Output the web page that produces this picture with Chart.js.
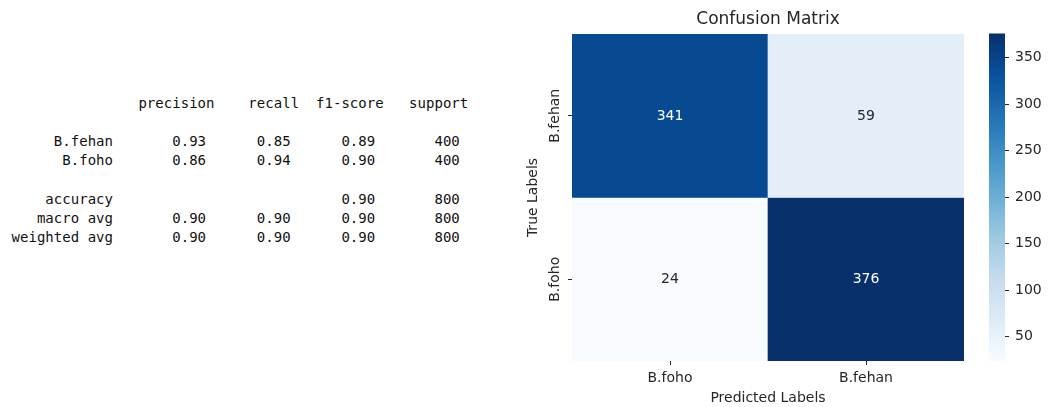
<!DOCTYPE html>
<html>
<head>
<meta charset="utf-8">
<script src="https://cdn.jsdelivr.net/npm/chart.js@4.4.0/dist/chart.umd.min.js"></script>
<style>
  html, body { margin: 0; padding: 0; background: #fff; width: 1053px; height: 407px; overflow: hidden; position: relative; }
  #report { position: absolute; left: 11.5px; top: 93.7px; margin: 0; font: 14px 'DejaVu Sans Mono', monospace; letter-spacing: 0.03px; line-height: 19.2px; color: #111; white-space: pre; }
  #cm { position: absolute; left: 500px; top: 0; }
  #cb { position: absolute; left: 980px; top: 0; }
</style>
</head>
<body>
<pre id="report"></pre>
<canvas id="cm" width="480" height="407"></canvas>
<canvas id="cb" width="73" height="407"></canvas>
<script>
// ---- classification report values ----
const reportHeaders = ['precision', 'recall', 'f1-score', 'support'];
const reportClasses = ['B.fehan', 'B.foho'];
const precisionScores = [0.93, 0.86];
const recallScores = [0.85, 0.94];
const f1Scores = [0.89, 0.90];
const supportCounts = [400, 400];
const accuracyScore = 0.90;
const totalSupport = 800;
const macroAvg = [0.90, 0.90, 0.90];
const weightedAvg = [0.90, 0.90, 0.90];

// ---- confusion matrix values ----
const predictedLabels = ['B.foho', 'B.fehan'];   // columns, left to right
const trueLabels = ['B.fehan', 'B.foho'];        // rows, top to bottom
const confusionCounts = [
  [341, 59],
  [24, 376]
];
const colorbarTicks = [50, 100, 150, 200, 250, 300, 350];

// ---- text report ----
const NAME_W = 12;
const cell = v => ' ' + (v == null ? '' : v.toFixed(2)).padStart(9);
const row = (name, vals, sup) =>
  name.padStart(NAME_W) + ' ' + vals.map(cell).join('') + ' ' + String(sup).padStart(9);
const reportLines = [
  ' '.repeat(15) + reportHeaders.map(h => h.padStart(9)).join(' '),
  '',
  ...reportClasses.map((c, i) => row(c, [precisionScores[i], recallScores[i], f1Scores[i]], supportCounts[i])),
  '',
  row('accuracy', [null, null, accuracyScore], totalSupport),
  row('macro avg', macroAvg, totalSupport),
  row('weighted avg', weightedAvg, totalSupport)
];
document.getElementById('report').textContent = reportLines.join('\n');

// ---- Blues colormap ----
const BLUES = [[247,251,255],[222,235,247],[198,219,239],[158,202,225],[107,174,214],[66,146,198],[33,113,181],[8,81,156],[8,48,107]];
function bluesRGB(t) {
  t = Math.min(1, Math.max(0, t));
  const s = t * (BLUES.length - 1);
  const i = Math.min(BLUES.length - 2, Math.floor(s));
  const f = s - i;
  return BLUES[i].map((c, k) => Math.round(c + (BLUES[i + 1][k] - c) * f));
}
const rgb = a => `rgb(${a[0]},${a[1]},${a[2]})`;

const allCounts = confusionCounts.flat();
const vmin = Math.min(...allCounts);
const vmax = Math.max(...allCounts);
const norm = v => (v - vmin) / (vmax - vmin);

const TEXT = '#262626';
const FONT = 'DejaVu Sans';
Chart.defaults.font.family = FONT;
Chart.defaults.color = TEXT;

const nRows = trueLabels.length;
const datasets = trueLabels.map((lab, i) => ({
  label: lab,
  data: predictedLabels.map(() => [nRows - 1 - i, nRows - i]),
  backgroundColor: confusionCounts[i].map(v => rgb(bluesRGB(norm(v)))),
  counts: confusionCounts[i]
}));

// cell annotations and rotated row labels
const cmPlugin = {
  id: 'cmText',
  afterDatasetsDraw(chart) {
    const ctx = chart.ctx;
    ctx.save();
    ctx.font = `14px ${FONT}`;
    ctx.textAlign = 'center';
    ctx.textBaseline = 'middle';
    chart.data.datasets.forEach((ds, di) => {
      chart.getDatasetMeta(di).data.forEach((el, j) => {
        const p = el.getProps(['x', 'y', 'base'], true);
        const v = ds.counts[j];
        const c = bluesRGB(norm(v));
        const lum = (0.2126 * c[0] + 0.7152 * c[1] + 0.0722 * c[2]) / 255;
        ctx.fillStyle = lum > 0.408 ? TEXT : '#ffffff';
        ctx.fillText(String(v), p.x, (p.y + p.base) / 2 + 0.5);
      });
    });
    ctx.restore();
  },
  afterDraw(chart) {
    const ctx = chart.ctx;
    const ys = chart.scales.y;
    ctx.save();
    ctx.font = `14px ${FONT}`;
    ctx.fillStyle = TEXT;
    ctx.textAlign = 'center';
    ctx.textBaseline = 'middle';
    trueLabels.forEach((lab, i) => {
      const py = ys.getPixelForValue(nRows - i - 0.5);
      ctx.save();
      ctx.translate(ys.right - 17, py);
      ctx.rotate(-Math.PI / 2);
      ctx.fillText(lab, 0, 0);
      ctx.restore();
    });
    ctx.restore();
  }
};

const tickGrid = { drawOnChartArea: false, drawTicks: true, tickLength: 4, tickColor: TEXT, tickWidth: 1 };

new Chart(document.getElementById('cm'), {
  type: 'bar',
  data: { labels: predictedLabels, datasets },
  options: {
    responsive: false,
    animation: false,
    devicePixelRatio: 1,
    layout: { padding: { left: 0, right: 16, top: 0, bottom: 0 } },
    datasets: { bar: { barPercentage: 1, categoryPercentage: 1, borderWidth: 0, grouped: false } },
    plugins: {
      legend: { display: false },
      tooltip: { enabled: false },
      title: {
        display: true, fullSize: false, text: 'Confusion Matrix', color: TEXT,
        font: { family: FONT, size: 17, weight: 'normal' },
        padding: { top: 9.8, bottom: 3.8 }
      }
    },
    scales: {
      x: {
        type: 'category', offset: true,
        grid: Object.assign({ offset: false }, tickGrid),
        border: { display: false },
        ticks: { color: TEXT, font: { size: 14 }, padding: 5, maxRotation: 0 },
        title: { display: true, text: 'Predicted Labels', color: TEXT, font: { size: 14 }, padding: { top: 0, bottom: 0.6 } },
        afterFit: s => { s.height = 46; }
      },
      y: {
        type: 'linear', min: 0, max: nRows,
        afterBuildTicks: s => { s.ticks = trueLabels.map((_, i) => ({ value: nRows - i - 0.5 })); },
        grid: tickGrid,
        border: { display: false },
        ticks: { display: false },
        title: { display: true, text: 'True Labels', color: TEXT, font: { size: 14 }, padding: { top: 24.6, bottom: 0 } },
        afterFit: s => { s.width = 72; }
      }
    }
  },
  plugins: [cmPlugin]
});

// ---- colorbar ----
const gradientPlugin = {
  id: 'cbGradient',
  beforeDatasetsDraw(chart) {
    const { ctx, chartArea: a, scales: { y } } = chart;
    const y0 = y.getPixelForValue(vmin), y1 = y.getPixelForValue(vmax);
    const g = ctx.createLinearGradient(0, y0, 0, y1);
    BLUES.forEach((c, k) => g.addColorStop(k / (BLUES.length - 1), rgb(c)));
    ctx.save();
    ctx.fillStyle = g;
    ctx.fillRect(a.left, y1, a.right - a.left, y0 - y1);
    ctx.restore();
  }
};

new Chart(document.getElementById('cb'), {
  type: 'bar',
  data: { labels: [''], datasets: [] },
  options: {
    responsive: false,
    animation: false,
    devicePixelRatio: 1,
    layout: { padding: { left: 9, right: 0, top: 33.5, bottom: 46 } },
    plugins: { legend: { display: false }, tooltip: { enabled: false } },
    scales: {
      x: { display: false },
      y: {
        position: 'right', min: vmin, max: vmax,
        afterBuildTicks: s => { s.ticks = colorbarTicks.map(v => ({ value: v })); },
        grid: tickGrid,
        border: { display: false },
        ticks: { color: TEXT, font: { size: 14 }, padding: 6 },
        afterFit: s => { s.width = 48; }
      }
    }
  },
  plugins: [gradientPlugin]
});
</script>
</body>
</html>
